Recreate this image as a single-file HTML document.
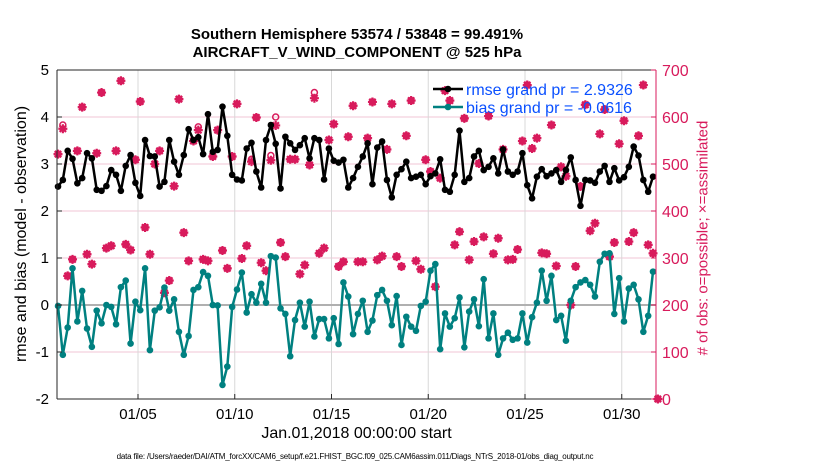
<!DOCTYPE html>
<html><head><meta charset="utf-8">
<style>
html,body{margin:0;padding:0;background:#fff;}
body{width:830px;height:470px;overflow:hidden;font-family:"Liberation Sans",sans-serif;}
</style></head>
<body>
<svg id="chart" width="830" height="470" xmlns="http://www.w3.org/2000/svg" font-family="Liberation Sans, sans-serif">
</svg>
<script>
const rmse=[2.52,2.66,3.28,3.11,2.59,2.70,3.23,3.12,2.45,2.43,2.53,2.87,2.77,2.43,2.96,3.19,2.60,2.32,3.51,3.17,3.16,2.52,2.62,3.51,3.05,2.77,3.19,3.74,3.51,3.57,3.21,4.06,
3.26,3.30,4.22,3.60,2.77,2.67,2.65,3.33,3.45,2.84,2.50,3.51,3.83,3.43,2.48,3.58,3.44,3.30,3.40,3.55,3.12,3.55,3.51,2.67,3.33,3.07,3.03,3.09,2.50,2.70,2.94,
3.16,3.44,2.57,3.35,3.48,2.66,2.29,2.77,2.89,3.05,2.70,2.73,2.77,2.57,2.74,2.80,3.10,2.45,2.41,2.77,3.71,2.62,2.70,3.16,3.28,2.87,2.94,3.12,2.80,3.31,2.84,
2.77,2.84,3.23,2.55,2.27,2.73,2.89,2.74,2.80,2.87,2.62,2.87,3.14,2.66,2.11,2.66,2.65,2.60,2.84,2.96,2.62,2.91,2.65,2.72,2.94,3.37,3.18,2.66,2.41,2.73];
const bias=[-0.02,-1.06,-0.48,0.78,-0.35,0.30,-0.50,-0.89,-0.12,-0.39,0.00,-0.04,-0.41,0.38,0.52,-0.82,0.07,-0.11,0.78,-0.96,-0.12,-0.05,0.37,-0.12,0.12,-0.57,-1.06,-0.66,0.32,0.38,0.70,0.62,
0.00,-0.01,-1.70,-1.31,-0.04,0.33,0.69,-0.16,0.23,0.05,0.45,0.05,1.04,1.01,-0.07,-0.19,-1.09,-0.32,0.05,-0.46,0.07,-0.67,-0.30,-0.30,-0.71,-0.28,-0.83,0.48,0.18,-0.62,-0.19,
0.09,-0.57,-0.33,0.21,0.32,0.09,-0.43,0.19,-0.85,-0.25,-0.46,-0.55,-0.02,0.07,0.73,0.87,-0.94,-0.18,-0.46,-0.28,0.16,-0.90,-0.14,0.12,-0.45,0.55,-0.71,-0.18,-1.06,-0.71,-0.59,
-0.74,-0.71,-0.18,-0.80,-0.26,0.05,0.73,0.09,0.62,-0.32,-0.23,-0.76,0.09,0.38,0.48,0.53,0.43,0.18,0.92,1.09,1.10,-0.19,0.57,-0.35,0.35,0.43,0.12,-0.57,-0.23,0.71];
const obsPossible=[521,583,262,297,528,621,308,287,523,652,321,326,528,677,329,317,509,633,365,308,500,528,226,252,453,638,354,294,549,579,297,294,
516,572,316,278,516,628,299,326,510,599,290,273,518,600,333,303,510,510,266,285,498,652,310,321,551,585,282,292,558,624,292,
292,555,632,296,304,531,628,303,282,560,635,294,276,509,484,239,470,656,635,328,356,597,296,335,501,345,602,309,342,531,296,
297,318,549,668,533,555,311,309,583,283,494,474,200,282,452,626,358,374,564,616,303,333,543,592,335,354,560,668,328,310,0];
const obsAssim=[521,575,262,297,528,621,308,287,523,652,321,326,528,677,329,317,509,633,365,308,500,528,226,252,453,638,354,294,549,572,297,294,
516,572,316,278,516,628,299,326,505,599,290,273,508,582,333,303,510,510,266,285,498,640,310,321,551,585,282,292,558,624,292,
292,555,632,296,304,531,628,303,282,560,635,294,276,509,484,239,470,656,635,328,356,597,296,335,501,345,602,309,342,531,296,
297,318,549,668,533,555,311,309,583,283,494,474,200,282,452,626,358,374,564,616,303,333,543,592,335,354,560,668,328,310,0];
const xTickLabels=["01/05","01/10","01/15","01/20","01/25","01/30"];
const xTickDays=[5,10,15,20,25,30];
const yLeftTicks=[-2,-1,0,1,2,3,4,5];
const yRightTicks=[0,100,200,300,400,500,600,700];

const L=57,R=656,T=70,B=399;
const dayPx=19.35;
const xDay=d=>138+(d-5)*dayPx;
const xIdx=i=>xDay(0.866+0.25*i);
const yL=v=>B-(v+2)*(B-T)/7;
const yR=v=>B-v*(B-T)/700;
const svg=document.getElementById('chart');
const NS='http://www.w3.org/2000/svg';
function mk(tag,attrs,parent){const e=document.createElementNS(NS,tag);for(const k in attrs)e.setAttribute(k,attrs[k]);(parent||svg).appendChild(e);return e;}
const PINK='#d81b5c';

yLeftTicks.forEach(v=>{if(v>-2&&v<5){const g=mk('line',{x1:L,x2:R,y1:yL(v),y2:yL(v),stroke:'#f2c4d4','stroke-width':1});

}});
xTickDays.forEach(d=>{const g=mk('line',{x1:xDay(d),x2:xDay(d),y1:T,y2:B,stroke:'#d8d8d8','stroke-width':1});

});
const zl=mk('line',{x1:L,x2:R,y1:yL(0),y2:yL(0),stroke:'#b0b0b0','stroke-width':2});



function obsMark(v,i,kind){
  const x=xIdx(i),y=yR(v);
  const g=mk('g',{});
  
  
  if(kind==='obs-possible-marker'){
    mk('circle',{cx:x,cy:y,r:3,fill:'none',stroke:PINK,'stroke-width':1.5},g);
  } else {
    mk('path',{d:`M${x-4.5},${y}H${x+4.5}M${x},${y-4.5}V${y+4.5}M${x-3.2},${y-3.2}L${x+3.2},${y+3.2}M${x-3.2},${y+3.2}L${x+3.2},${y-3.2}`,stroke:PINK,'stroke-width':2.2},g);
  }
}
obsAssim.forEach((v,i)=>obsMark(v,i,'obs-assimilated-marker'));
obsPossible.forEach((v,i)=>obsMark(v,i,'obs-possible-marker'));

function series(arr,color,name){
  const p=arr.map((v,i)=>(i?'L':'M')+xIdx(i).toFixed(1)+','+yL(v).toFixed(1)).join('');
  const path=mk('path',{d:p,fill:'none',stroke:color,'stroke-width':2.5,'stroke-linejoin':'round'});
  
  
  arr.forEach((v,i)=>{const c=mk('circle',{cx:xIdx(i),cy:yL(v),r:3.3,fill:color});
  
  });
}
series(rmse,'#000','rmse');
series(bias,'#008080','bias');

const ax=mk('g',{});


mk('line',{x1:L,x2:R,y1:T,y2:T,stroke:'#262626'},ax);
mk('line',{x1:L,x2:R,y1:B,y2:B,stroke:'#262626'},ax);
mk('line',{x1:L,x2:L,y1:T,y2:B,stroke:'#262626'},ax);
mk('line',{x1:R,x2:R,y1:T,y2:B,stroke:PINK},ax);

yLeftTicks.forEach(v=>{const t=mk('text',{x:L-8,y:yL(v)+5,'text-anchor':'end','font-size':15,fill:'#000'});t.textContent=v;


mk('line',{x1:L,x2:L+5,y1:yL(v),y2:yL(v),stroke:'#262626'});});
yRightTicks.forEach(v=>{const t=mk('text',{x:R+6,y:yR(v)+6,'font-size':16,fill:PINK});t.textContent=v;


mk('line',{x1:R-5,x2:R,y1:yR(v),y2:yR(v),stroke:PINK});});
xTickLabels.forEach((s,i)=>{const t=mk('text',{x:xDay(xTickDays[i]),y:419,'text-anchor':'middle','font-size':15,fill:'#000'});t.textContent=s;


mk('line',{x1:xDay(xTickDays[i]),x2:xDay(xTickDays[i]),y1:B,y2:B-5,stroke:'#262626'});});

function leg(y,color,label,name){
  const g=mk('g',{});
  
  
  mk('line',{x1:433,x2:463,y1:y,y2:y,stroke:color,'stroke-width':2.5},g);
  mk('circle',{cx:448,cy:y,r:3.3,fill:color},g);
  const t=mk('text',{x:466,y:y+6,'font-size':16,fill:'#0a50ff'},g);t.textContent=label;
}
leg(89,'#000','rmse grand pr = 2.9326','legend-rmse');
leg(107,'#008080','bias grand pr = -0.0616','legend-bias');
</script>
<div style="position:absolute;left:0;top:0;width:830px;height:470px;pointer-events:none">
<div style="position:absolute;left:0;width:714px;top:26px;text-align:center;font-weight:bold;font-size:15px;line-height:18px;color:#000">Southern Hemisphere 53574 / 53848 = 99.491%<br>AIRCRAFT_V_WIND_COMPONENT @ 525 hPa</div>
<div style="position:absolute;left:57px;width:599px;top:425px;text-align:center;font-size:16px;color:#000">Jan.01,2018 00:00:00 start</div>
<div style="position:absolute;left:0;width:710px;top:452px;text-align:center;font-size:8px;color:#000;letter-spacing:-0.2px">data file: /Users/raeder/DAI/ATM_forcXX/CAM6_setup/f.e21.FHIST_BGC.f09_025.CAM6assim.011/Diags_NTrS_2018-01/obs_diag_output.nc</div>
<div style="position:absolute;left:22px;top:234px;width:0;height:0"><div style="position:absolute;transform:translate(-50%,-50%) rotate(-90deg);white-space:nowrap;font-size:16px;color:#000">rmse and bias (model - observation)</div></div>
<div style="position:absolute;left:703px;top:238px;width:0;height:0"><div style="position:absolute;transform:translate(-50%,-50%) rotate(-90deg);white-space:nowrap;font-size:15px;color:#d81b5c"># of obs: o=possible; &#215;=assimilated</div></div>
</div>
</body></html>
